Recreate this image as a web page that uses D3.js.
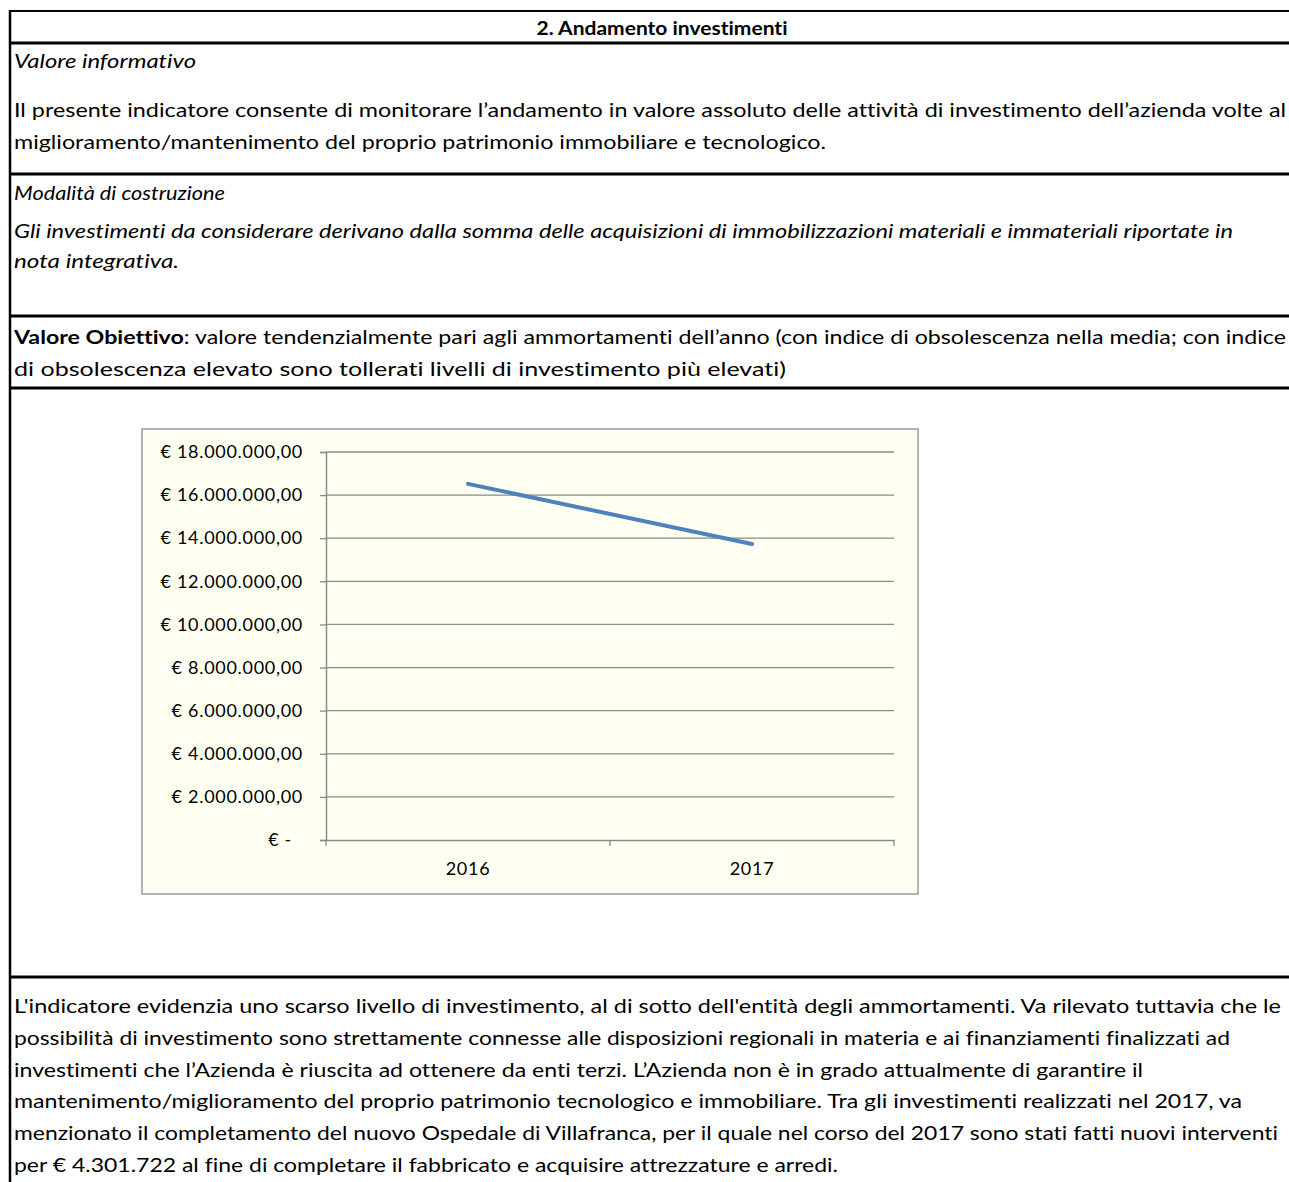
<!DOCTYPE html>
<html>
<head>
<meta charset="utf-8">
<script src="https://cdn.jsdelivr.net/npm/d3@7"></script>
<style>
  body { margin: 0; background: #fff; }
  svg text { font-family: Lato, "Open Sans", sans-serif; fill: #000; font-variant-ligatures: none; }
</style>
</head>
<body>
<svg id="page" width="1289" height="1182"></svg>
<script>
// chart data
const years = ["2016", "2017"];
const investimenti = [16520000, 13730000];
const yTicks = [0, 2000000, 4000000, 6000000, 8000000, 10000000, 12000000, 14000000, 16000000, 18000000];

// text of the sheet, one entry per printed line
const title = "2. Andamento investimenti";
const infoLines = [
    "Il presente indicatore consente di monitorare l\u2019andamento in valore assoluto delle attività di investimento dell\u2019azienda volte al",
    "miglioramento/mantenimento del proprio patrimonio immobiliare e tecnologico."
];
const costrLines = [
    "Gli investimenti da considerare derivano dalla somma delle acquisizioni di immobilizzazioni materiali e immateriali riportate in",
    "nota integrativa."
];
const obiettivoLines = [
    ": valore tendenzialmente pari agli ammortamenti dell\u2019anno (con indice di obsolescenza nella media; con indice",
    "di obsolescenza elevato sono tollerati livelli di investimento più elevati)"
];
const commentLines = [
    "L'indicatore evidenzia uno scarso livello di investimento, al di sotto dell'entità degli ammortamenti. Va rilevato tuttavia che le",
    "possibilità di investimento sono strettamente connesse alle disposizioni regionali in materia e ai finanziamenti finalizzati ad",
    "investimenti che l\u2019Azienda è riuscita ad ottenere da enti terzi. L\u2019Azienda non è in grado attualmente di garantire il",
    "mantenimento/miglioramento del proprio patrimonio tecnologico e immobiliare. Tra gli investimenti realizzati nel 2017, va",
    "menzionato il completamento del nuovo Ospedale di Villafranca, per il quale nel corso del 2017 sono stati fatti nuovi interventi",
    "per \u20ac 4.301.722 al fine di completare il fabbricato e acquisire attrezzature e arredi."
];

const svg = d3.select("#page");
const FS = 19;
const X0 = 14;

// table borders
svg.append("line").attr("x1", 10).attr("x2", 10).attr("y1", 10).attr("y2", 1182)
    .attr("stroke", "#000").attr("stroke-width", 2.5);
[[11, 2], [43, 3], [174, 3], [316, 3], [388, 3], [977, 3]].forEach(([y, w]) => {
    svg.append("line").attr("x1", 9).attr("x2", 1289).attr("y1", y).attr("y2", y)
        .attr("stroke", "#000").attr("stroke-width", w);
});

function textLine(x, y, str, end, opts = {}) {
    const t = svg.append("text").attr("x", x).attr("y", y)
        .style("font-size", (opts.size || FS) + "px")
        .style("font-style", opts.italic ? "italic" : "normal")
        .style("font-weight", opts.bold ? "bold" : "normal")
        .attr("text-anchor", opts.anchor || "start")
        .text(str);
    if (end) t.attr("textLength", opts.anchor === "middle" ? end : end - x).attr("lengthAdjust", "spacingAndGlyphs");
    return t;
}

textLine(662, 35, title, 251, { bold: true, anchor: "middle", size: 18 });
textLine(X0, 68, "Valore informativo", 196, { italic: true });
const infoEnd = [1286, 826];
infoLines.forEach((s, i) => textLine(X0, 117 + i * 32, s, infoEnd[i]));

textLine(X0, 200, "Modalità di costruzione", 225, { italic: true });
const costrEnd = [1233, 179];
costrLines.forEach((s, i) => textLine(X0, 238 + i * 30, s, costrEnd[i], { italic: true }));

const obEnd = [1286, 786];
obiettivoLines.forEach((s, i) => {
    const y = 344 + i * 32;
    if (i === 0) {
        const t = svg.append("text").attr("x", X0).attr("y", y)
            .style("font-size", FS + "px")
            .attr("textLength", obEnd[0] - X0).attr("lengthAdjust", "spacingAndGlyphs");
        t.append("tspan").style("font-weight", "bold").text("Valore Obiettivo");
        t.append("tspan").text(s);
    } else {
        textLine(X0, y, s, obEnd[i]);
    }
});

const comEnd = [1281, 1230, 1143, 1242, 1278, 838];
commentLines.forEach((s, i) => textLine(X0, 1013 + i * 31.8, s, comEnd[i]));

// chart
const box = { x: 142, y: 429, w: 776, h: 465 };
svg.append("rect").attr("x", box.x).attr("y", box.y).attr("width", box.w).attr("height", box.h)
    .attr("fill", "#FFFFF2").attr("stroke", "#9a9a9a").attr("stroke-width", 1.5);

const plot = { left: 326, right: 894, top: 452, bottom: 840 };
const x = d3.scaleBand().domain(years).range([plot.left, plot.right]);
const y = d3.scaleLinear().domain([0, 18000000]).range([plot.bottom, plot.top]);

const fmt = v => v === 0 ? "\u20ac -" : "\u20ac " + d3.format(",.2f")(v).replace(/,/g, "#").replace(".", ",").replace(/#/g, ".");

// gridlines
svg.append("g").selectAll("line").data(yTicks.filter(v => v > 0)).join("line")
    .attr("x1", plot.left).attr("x2", plot.right)
    .attr("y1", d => y(d)).attr("y2", d => y(d))
    .attr("stroke", "#8a8a8a").attr("stroke-width", 1.3);

const yAxis = svg.append("g").attr("transform", `translate(${plot.left},0)`)
    .call(d3.axisLeft(y).tickValues(yTicks).tickSize(6).tickPadding(17).tickFormat(fmt));
yAxis.select(".domain").attr("stroke", "#8a8a8a").attr("stroke-width", 1.5);
yAxis.selectAll(".tick line").attr("stroke", "#8a8a8a").attr("stroke-width", 1.3);
yAxis.selectAll(".tick text").style("font-size", "18px").style("letter-spacing", "0.7px")
    .attr("fill", "#000").attr("dx", d => d === 0 ? -11 : 0);

const xAxis = svg.append("g").attr("transform", `translate(0,${plot.bottom})`)
    .call(d3.axisBottom(x).tickSize(0).tickPadding(22));
xAxis.select(".domain").attr("stroke", "#8a8a8a").attr("stroke-width", 1.5);
xAxis.selectAll(".tick text").style("font-size", "18px").style("letter-spacing", "0.7px").attr("fill", "#000");
// category boundary ticks
const bounds = [plot.left, ...years.slice(1).map(d => x(d)), plot.right];
xAxis.append("g").selectAll("line").data(bounds).join("line")
    .attr("x1", d => d).attr("x2", d => d).attr("y1", 0).attr("y2", 6)
    .attr("stroke", "#8a8a8a").attr("stroke-width", 1.3);

const line = d3.line().x((d, i) => x(years[i]) + x.bandwidth() / 2).y(d => y(d));
svg.append("path").datum(investimenti).attr("d", line)
    .attr("fill", "none").attr("stroke", "#4F81BD").attr("stroke-width", 4)
    .attr("stroke-linecap", "round");
</script>
</body>
</html>
